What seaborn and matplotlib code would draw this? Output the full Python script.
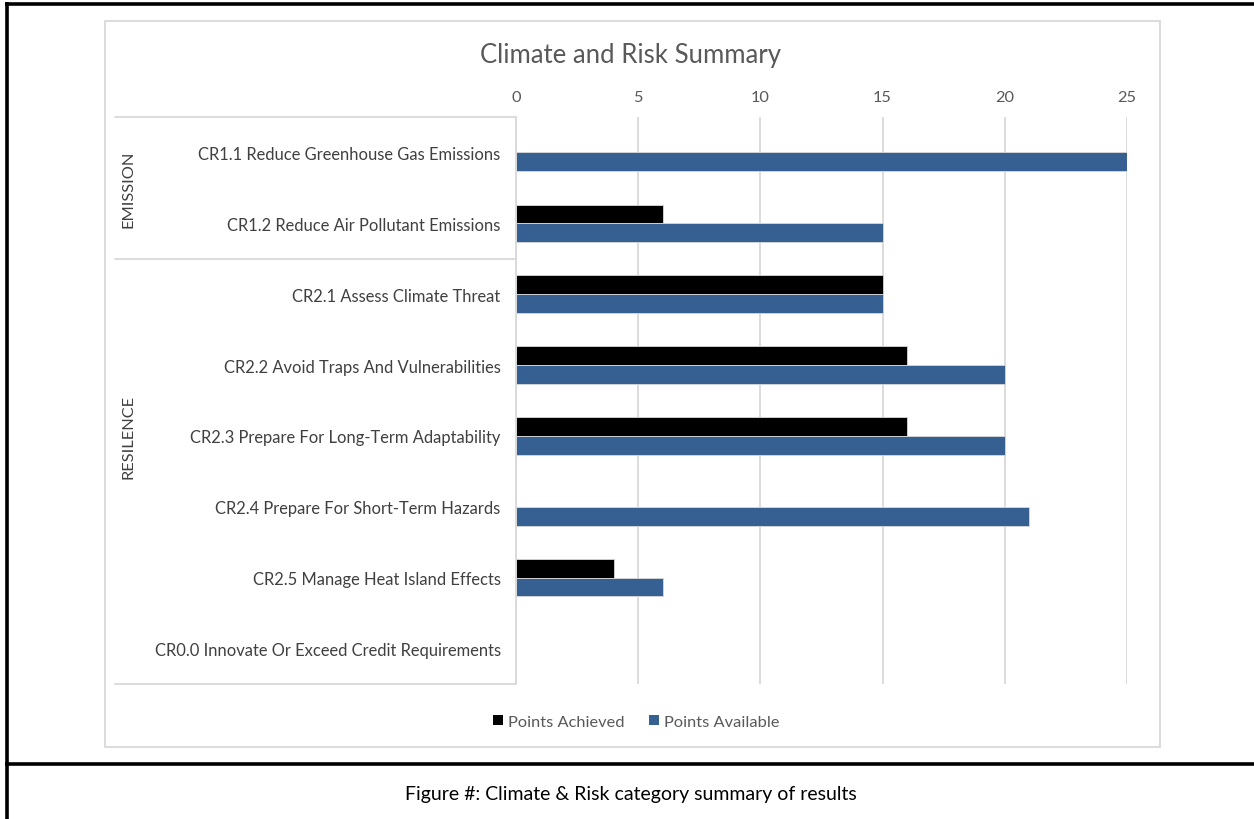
import matplotlib
matplotlib.use("Agg")
import matplotlib.pyplot as plt
import seaborn as sns
import pandas as pd
from matplotlib.patches import Patch, Rectangle
from matplotlib.lines import Line2D

categories = [
    "CR1.1 Reduce Greenhouse Gas Emissions",
    "CR1.2 Reduce Air Pollutant Emissions",
    "CR2.1 Assess Climate Threat",
    "CR2.2 Avoid Traps And Vulnerabilities",
    "CR2.3 Prepare For Long-Term Adaptability",
    "CR2.4 Prepare For Short-Term Hazards",
    "CR2.5 Manage Heat Island Effects",
    "CR0.0 Innovate Or Exceed Credit Requirements",
]
points_achieved = [0, 6, 15, 16, 16, 0, 4, 0]
points_available = [25, 15, 15, 20, 20, 21, 6, 0]
series_names = ["Points Achieved", "Points Available"]
groups = ["EMISSION", "RESILENCE"]
group_sizes = [2, 5]
x_ticks = [0, 5, 10, 15, 20, 25]
title = "Climate and Risk Summary"
caption = "Figure #: Climate & Risk category summary of results"

df = pd.DataFrame({
    "category": categories * 2,
    "series": [series_names[0]] * len(categories) + [series_names[1]] * len(categories),
    "value": points_achieved + points_available,
})

sns.set_theme(style="white")
plt.rcParams["font.family"] = ["Lato", "DejaVu Sans"]

W, H = 1254, 820
fig = plt.figure(figsize=(W / 100, H / 100), dpi=100)

def fx(px):
    return px / W

def fy(py):
    return 1 - py / H

ax_left, ax_right, ax_top, ax_bot = 516, 1127, 118, 685
ax = fig.add_axes([fx(ax_left), fy(ax_bot), fx(ax_right - ax_left), fy(ax_top) - fy(ax_bot)])

colors = ["#000000", "#376092"]
sns.barplot(data=df, y="category", x="value", hue="series", order=categories,
            hue_order=series_names, palette=colors, saturation=1, orient="h", width=0.53,
            edgecolor="#d9d9d9", linewidth=0.6, ax=ax, legend=False)

ax.set_xlim(0, 25)
ax.set_ylim(len(categories) - 0.5, -0.5)
ax.set_xticks(x_ticks)
ax.xaxis.tick_top()
ax.tick_params(axis="x", length=0, pad=9, labelsize=11.8, labelcolor="#595959")
ax.tick_params(axis="y", length=0, pad=11, labelsize=11.9, labelcolor="#404040")
ax.set_xlabel("")
ax.set_ylabel("")
ax.grid(axis="x", color="#d9d9d9", linewidth=1.3)
ax.set_axisbelow(True)
for s in ["top", "right", "bottom"]:
    ax.spines[s].set_visible(False)
ax.spines["left"].set_color("#d9d9d9")
ax.spines["left"].set_linewidth(1.3)

# category group separators (top, between groups, bottom) and group labels
sep_x0 = fx(115)
sep_rows = [-0.5, group_sizes[0] - 0.5, len(categories) - 0.5]
for yb in sep_rows:
    ypix = ax.transData.transform((0, yb))[1]
    fig.add_artist(Line2D([sep_x0, fx(ax_left)], [ypix / H, ypix / H],
                          transform=fig.transFigure, color="#d9d9d9", linewidth=1.3))
start = 0
for g, n in zip(groups, group_sizes):
    mid = start + (n - 1) / 2
    ypix = ax.transData.transform((0, mid))[1]
    fig.text(fx(128), ypix / H, g, rotation=90, ha="center", va="center",
             fontsize=11.8, color="#404040")
    start += n

# chart area border
fig.add_artist(Rectangle((fx(105), fy(748)), fx(1160 - 105), fy(22) - fy(748),
                         transform=fig.transFigure, fill=False,
                         edgecolor="#d9d9d9", linewidth=1.3))

fig.text(fx(631), fy(55), title, ha="center", va="center", fontsize=18.5, color="#595959")

handles = [Patch(facecolor=c, edgecolor="none") for c in colors]
fig.legend(handles, series_names, loc="center", bbox_to_anchor=(fx(636), fy(723)),
           ncol=2, frameon=False, fontsize=11.8, handlelength=0.6, handleheight=0.6,
           handletextpad=0.3, columnspacing=1.5, labelcolor="#595959")

# outer document frame
lw = 2.6
frame_kw = dict(transform=fig.transFigure, color="black", linewidth=lw, solid_capstyle="butt")
fig.add_artist(Line2D([fx(6.5), fx(6.5)], [0, fy(3)], **frame_kw))
fig.add_artist(Line2D([fx(5), 1], [fy(4.5), fy(4.5)], **frame_kw))
fig.add_artist(Line2D([fx(5), 1], [fy(764.5), fy(764.5)], **frame_kw))

fig.text(fx(631), fy(795), caption, ha="center", va="center", fontsize=14, color="black")

fig.savefig("out.png", dpi=100)
